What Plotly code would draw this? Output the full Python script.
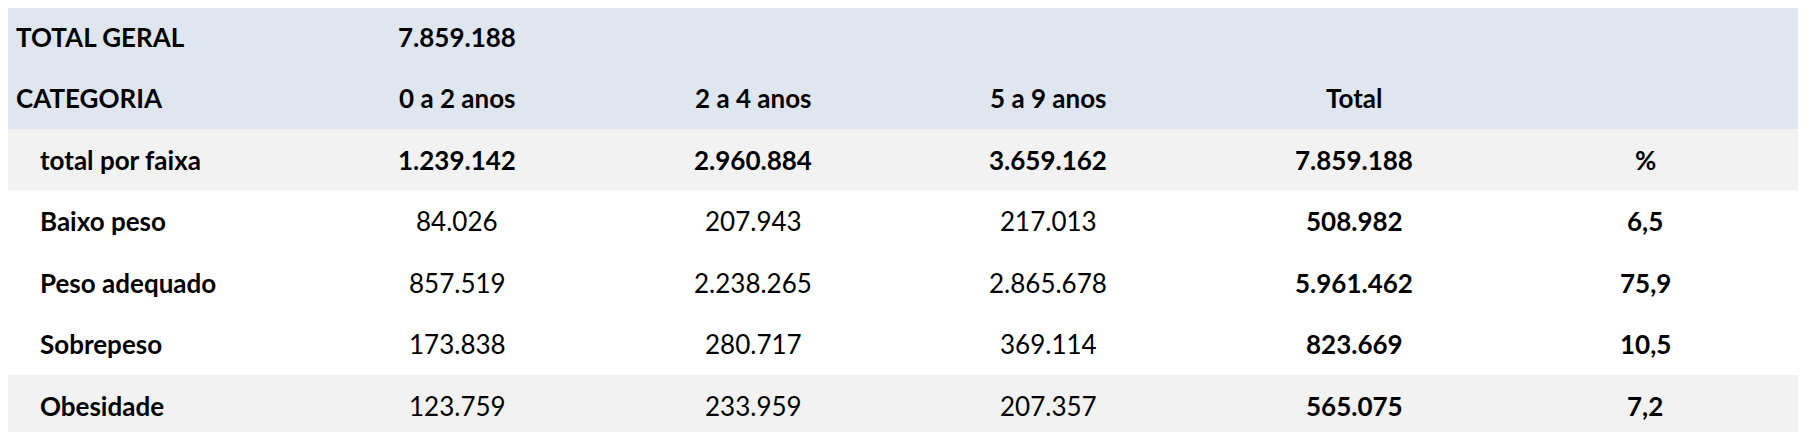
import plotly.graph_objects as go

total_geral = "7.859.188"
columns = ["0 a 2 anos", "2 a 4 anos", "5 a 9 anos", "Total", ""]
total_por_faixa = ["1.239.142", "2.960.884", "3.659.162", "7.859.188", "%"]
categories = ["Baixo peso", "Peso adequado", "Sobrepeso", "Obesidade"]
faixa_0_2 = ["84.026", "857.519", "173.838", "123.759"]
faixa_2_4 = ["207.943", "2.238.265", "280.717", "233.959"]
faixa_5_9 = ["217.013", "2.865.678", "369.114", "207.357"]
totais = ["508.982", "5.961.462", "823.669", "565.075"]
percent = ["6,5", "75,9", "10,5", "7,2"]

W, H = 1806, 432
OFF = 8  # page body margin
TOP, ROW_H = 6, 61.5
LEFT, RIGHT = 6, 1800
col_x = [457, 753, 1048, 1354, 1645]
FONT = "Lato"
BLUE, GRAY = "#dfe6f0", "#f2f2f2"

fig = go.Figure()
shapes = []
def band(r0, r1, color):
    shapes.append(dict(type="rect", xref="x", yref="y", x0=LEFT, x1=RIGHT,
                       y0=TOP + r0 * ROW_H, y1=TOP + r1 * ROW_H,
                       fillcolor=color, line_width=0, layer="below"))
band(0, 2, BLUE)
band(2, 3, GRAY)
band(6, 7.2, GRAY)

ann = []
def cell(x, row, text, bold, anchor="center"):
    ann.append(dict(x=x, y=TOP + (row + 0.5) * ROW_H, xref="x", yref="y",
                    text=f"<b>{text}</b>" if bold else text, showarrow=False,
                    xanchor=anchor, yanchor="middle",
                    font=dict(family=FONT, size=26, color="#000000")))

cell(14, 0, "TOTAL GERAL", True, "left")
cell(col_x[0], 0, total_geral, True)
cell(14, 1, "CATEGORIA", True, "left")
for x, c in zip(col_x, columns):
    if c:
        cell(x, 1, c, True)
cell(38, 2, "total por faixa", True, "left")
for x, v in zip(col_x, total_por_faixa):
    cell(x, 2, v, True)
for i, cat in enumerate(categories):
    r = 3 + i
    cell(38, r, cat, True, "left")
    cell(col_x[0], r, faixa_0_2[i], False)
    cell(col_x[1], r, faixa_2_4[i], False)
    cell(col_x[2], r, faixa_5_9[i], False)
    cell(col_x[3], r, totais[i], True)
    cell(col_x[4], r, percent[i], True)

fig.update_layout(
    width=W, height=H + 20, margin=dict(l=0, r=0, t=0, b=0),
    paper_bgcolor="white", plot_bgcolor="white",
    shapes=shapes, annotations=ann, showlegend=False,
    xaxis=dict(range=[OFF, W + OFF], visible=False, fixedrange=True),
    yaxis=dict(range=[H + 20 + OFF, OFF], visible=False, fixedrange=True),
)
fig.write_html("out.html")
